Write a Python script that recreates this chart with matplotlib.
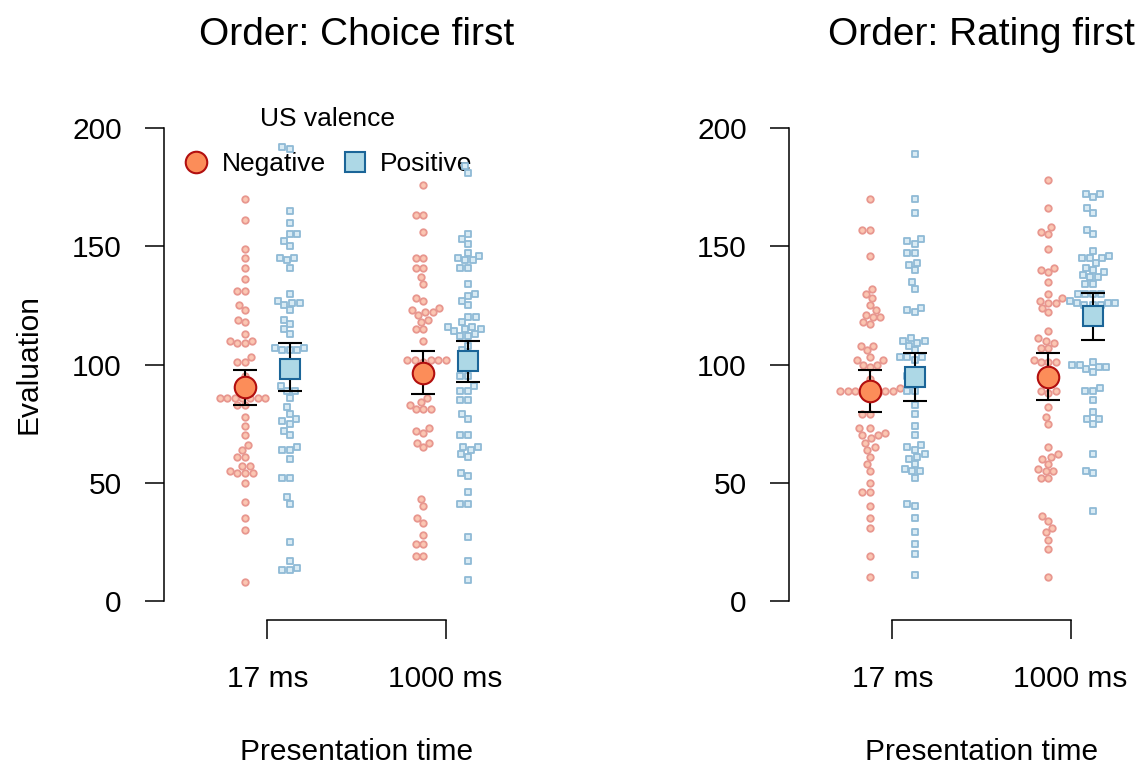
import numpy as np
import matplotlib
matplotlib.use('Agg')
import matplotlib.pyplot as plt
from matplotlib.lines import Line2D

plt.rcParams['font.family'] = ['Liberation Sans', 'DejaVu Sans']

# ---- data ----
times = ['17 ms', '1000 ms']
orders = ['Order: Choice first', 'Order: Rating first']

choice_17_neg = [170, 161, 149, 145, 141, 136, 131, 131, 125, 123, 119, 118, 113, 110, 110, 109, 109,
                 103, 101, 101, 95, 92, 90, 86, 86, 86, 86, 86, 86, 86, 83, 83, 78, 74, 70, 66, 64,
                 61, 61, 57, 57, 55, 54, 54, 54, 50, 42, 35, 30, 8]
choice_17_pos = [192, 191, 165, 160, 155, 155, 152, 150, 145, 145, 144, 141, 130, 127, 126, 126, 125,
                 123, 119, 117, 115, 113, 107, 107, 106, 106, 106, 100, 98, 96, 91, 89, 89, 86, 82,
                 79, 77, 76, 75, 72, 70, 65, 64, 64, 60, 52, 52, 44, 41, 25, 17, 14, 13, 13]
choice_1000_neg = [176, 163, 163, 156, 145, 145, 141, 141, 137, 134, 128, 127, 124, 123, 122, 122, 121,
                   119, 118, 115, 115, 110, 102, 102, 102, 102, 102, 101, 99, 97, 86, 84, 83, 81, 81,
                   81, 73, 71, 72, 67, 65, 67, 43, 40, 35, 33, 28, 24, 24, 19, 19]
choice_1000_pos = [184, 181, 155, 153, 151, 147, 146, 145, 144, 144, 141, 141, 134, 130, 129, 127, 125,
                   120, 120, 118, 116, 116, 115, 115, 114, 113, 112, 112, 108, 106, 104, 95, 95, 91,
                   89, 89, 85, 85, 79, 77, 70, 70, 64, 65, 65, 61, 62, 53, 54, 46, 41, 41, 27, 17, 9]
rating_17_neg = [170, 157, 157, 146, 132, 130, 128, 125, 123, 121, 120, 120, 118, 117, 108, 108, 106,
                 102, 103, 100, 99, 102, 100, 94, 90, 89, 89, 88, 88, 89, 89, 88, 89, 79, 79, 73, 73,
                 71, 70, 70, 69, 67, 64, 65, 58, 61, 55, 50, 46, 46, 40, 35, 31, 19, 10]
rating_17_pos = [189, 170, 164, 153, 151, 152, 147, 147, 143, 142, 140, 135, 132, 124, 122, 123, 110,
                 109, 111, 108, 110, 106, 103, 103, 103, 102, 95, 95, 89, 89, 83, 79, 74, 70, 66, 65,
                 64, 62, 60, 61, 58, 56, 55, 55, 52, 40, 41, 35, 29, 24, 20, 11]
rating_1000_neg = [178, 166, 158, 156, 155, 149, 141, 139, 140, 135, 130, 128, 127, 126, 126, 124, 122,
                   114, 111, 109, 110, 107, 107, 102, 101, 101, 101, 95, 95, 89, 88, 89, 82, 78, 75,
                   65, 62, 61, 60, 58, 55, 55, 56, 52, 52, 36, 34, 31, 29, 26, 22, 10]
rating_1000_pos = [172, 171, 172, 164, 166, 155, 157, 148, 146, 145, 143, 145, 145, 140, 141, 139, 137,
                   137, 138, 134, 134, 130, 130, 130, 130, 127, 126, 125, 125, 125, 126, 126, 120, 122,
                   99, 101, 98, 100, 100, 97, 99, 90, 89, 89, 85, 80, 77, 77, 75, 62, 54, 55, 38]

# means with interval [low, high]
choice_means = {'neg': [90.3, 96.3], 'pos': [98.3, 101.3]}
choice_low = {'neg': [82.9, 87.6], 'pos': [88.7, 92.4]}
choice_high = {'neg': [97.7, 105.5], 'pos': [109.0, 109.9]}
rating_means = {'neg': [88.7, 94.9], 'pos': [94.6, 120.5]}
rating_low = {'neg': [79.8, 85.0], 'pos': [84.5, 110.5]}
rating_high = {'neg': [97.5, 104.9], 'pos': [104.8, 130.2]}

panels = [
    {'neg': [choice_17_neg, choice_1000_neg], 'pos': [choice_17_pos, choice_1000_pos],
     'm': choice_means, 'lo': choice_low, 'hi': choice_high},
    {'neg': [rating_17_neg, rating_1000_neg], 'pos': [rating_17_pos, rating_1000_pos],
     'm': rating_means, 'lo': rating_low, 'hi': rating_high},
]

style = {
    'neg': dict(marker='o', pt_face='#fbc6b2', pt_edge='#e8978f', m_face='#fc8d59', m_edge='#b20f0f', off=-0.125),
    'pos': dict(marker='s', pt_face='#d9ebf4', pt_edge='#8fbad6', m_face='#add8e6', m_edge='#1b6598', off=0.125),
}

W, H = 1139, 765
fig = plt.figure(figsize=(W / 100, H / 100), dpi=100)


def swarm_x(ax, xc, yvals, d):
    pts = ax.transData.transform(np.column_stack([np.full(len(yvals), xc), yvals]))
    ypix = pts[:, 1]
    xpix0 = pts[0, 0]
    order = np.argsort(ypix, kind='stable')
    px, py = [], []
    xoff = np.zeros(len(yvals))
    for i in order:
        y = ypix[i]
        cands = [0.0]
        for a, b in zip(px, py):
            dy = abs(b - y)
            if dy < d:
                dx = np.sqrt(d * d - dy * dy)
                cands += [a - dx, a + dx]
        cands.sort(key=lambda c: (round(abs(c), 6), c))
        for c in cands:
            if all((c - a) ** 2 + (y - b) ** 2 >= d * d - 1e-6 for a, b in zip(px, py)):
                break
        px.append(c)
        py.append(y)
        xoff[i] = c
    back = ax.transData.inverted().transform(np.column_stack([xpix0 + xoff, ypix]))
    return back[:, 0]


lefts = [164, 789]
for p, (panel, left) in enumerate(zip(panels, lefts)):
    ax = fig.add_axes([left / W, (H - 620) / H, 385 / W, 511 / H])
    ax.set_xlim(0.42, 2.58)
    ax.set_ylim(-8, 208)
    for key in ['neg', 'pos']:
        st = style[key]
        for j in range(2):
            xc = j + 1 + st['off']
            yv = np.array(panel[key][j], dtype=float)
            xs = swarm_x(ax, xc, yv, 7.6)
            ax.scatter(xs, yv, s=22, marker=st['marker'], facecolor=st['pt_face'],
                       edgecolor=st['pt_edge'], linewidths=1.3, zorder=2, clip_on=False)
        xm = np.arange(1, 3) + st['off']
        m = np.array(panel['m'][key])
        lo = np.array(panel['lo'][key])
        hi = np.array(panel['hi'][key])
        ax.errorbar(xm, m, yerr=[m - lo, hi - m], fmt='none', ecolor='black',
                    elinewidth=1.5, capsize=8.5, capthick=1.5, zorder=3)
        ax.plot(xm, m, ls='', marker=st['marker'], ms=15.5 if key == 'neg' else 14.5,
                mfc=st['m_face'], mec=st['m_edge'], mew=1.5, zorder=4)

    for s in ['top', 'right']:
        ax.spines[s].set_visible(False)
    ax.spines['left'].set_bounds(0, 200)
    ax.spines['bottom'].set_bounds(1, 2)
    ax.spines['left'].set_linewidth(1.1)
    ax.spines['bottom'].set_linewidth(1.1)
    ax.set_yticks([0, 50, 100, 150, 200])
    ax.set_xticks([1, 2])
    ax.set_xticklabels(times)
    ax.tick_params(axis='both', length=13.5, width=1.1, labelsize=21.5)
    ax.tick_params(axis='y', pad=17)
    ax.tick_params(axis='x', pad=19)
    ax.set_xlabel('Presentation time', fontsize=21.5, labelpad=32)
    ax.set_title(orders[p], fontsize=28, pad=46)
    if p == 0:
        ax.set_ylabel('Evaluation', fontsize=21.5, labelpad=21)
        handles = [Line2D([], [], ls='', marker='o', ms=15.5, mfc=style['neg']['m_face'],
                          mec=style['neg']['m_edge'], mew=1.5),
                   Line2D([], [], ls='', marker='s', ms=14.5, mfc=style['pos']['m_face'],
                          mec=style['pos']['m_edge'], mew=1.5)]
        leg = ax.legend(handles, ['Negative', 'Positive'], title='US valence', ncol=2,
                        loc='upper center', bbox_to_anchor=(0.425, 1.03), frameon=False,
                        fontsize=19, title_fontsize=19, handlelength=1.0, handletextpad=0.45,
                        columnspacing=0.6, borderpad=0.0, labelspacing=0.8)
        leg.set_zorder(1)

fig.savefig('out.png', dpi=100)
